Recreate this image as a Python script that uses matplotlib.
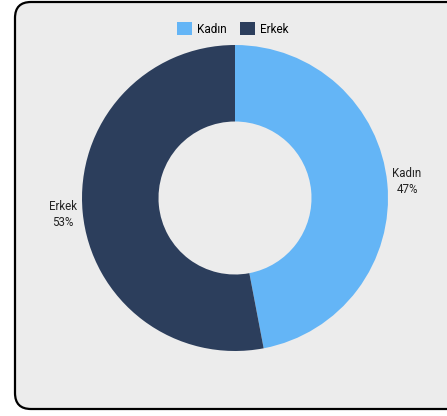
import matplotlib.pyplot as plt
from matplotlib.patches import FancyBboxPatch, Patch
import numpy as np

labels = ['Kadın', 'Erkek']
values = [47, 53]
colors = ['#64b5f6', '#2c3e5c']

plt.rcParams['font.family'] = ['Roboto', 'DejaVu Sans']

W, H = 447, 416
fig = plt.figure(figsize=(W / 100, H / 100), dpi=100)

# background card
bg = fig.add_axes([0, 0, 1, 1])
bg.set_xlim(0, W)
bg.set_ylim(H, 0)
bg.axis('off')
bg.add_patch(FancyBboxPatch((15, 2), 460, 407, boxstyle='round,pad=0,rounding_size=16',
                            facecolor='#ececec', edgecolor='black', linewidth=1.6))

# donut
cx, cy, r = 235, 198, 153
ax = fig.add_axes([(cx - r) / W, (H - cy - r) / H, 2 * r / W, 2 * r / H])
wedges, _ = ax.pie(values, colors=colors, startangle=90, counterclock=False,
                   radius=1, wedgeprops=dict(width=0.5, linewidth=0))
ax.set_aspect('equal')
ax.set_xlim(-1, 1)
ax.set_ylim(-1, 1)
ax.axis('off')

for w, lab, v in zip(wedges, labels, values):
    ang = np.deg2rad((w.theta1 + w.theta2) / 2)
    ax.text(1.13 * np.cos(ang), 1.13 * np.sin(ang), f'{lab}\n{v}%',
            ha='center', va='center', fontsize=8.3, color='#222222',
            linespacing=1.35, clip_on=False)

handles = [Patch(facecolor=c, label=l) for c, l in zip(colors, labels)]
fig.legend(handles=handles, loc='center', bbox_to_anchor=(233 / W, 1 - 29 / H),
           ncol=2, frameon=False, fontsize=8.5, handlelength=1.25, handleheight=1.25,
           handletextpad=0.45, columnspacing=1.1)

fig.savefig('out.png', dpi=100)
